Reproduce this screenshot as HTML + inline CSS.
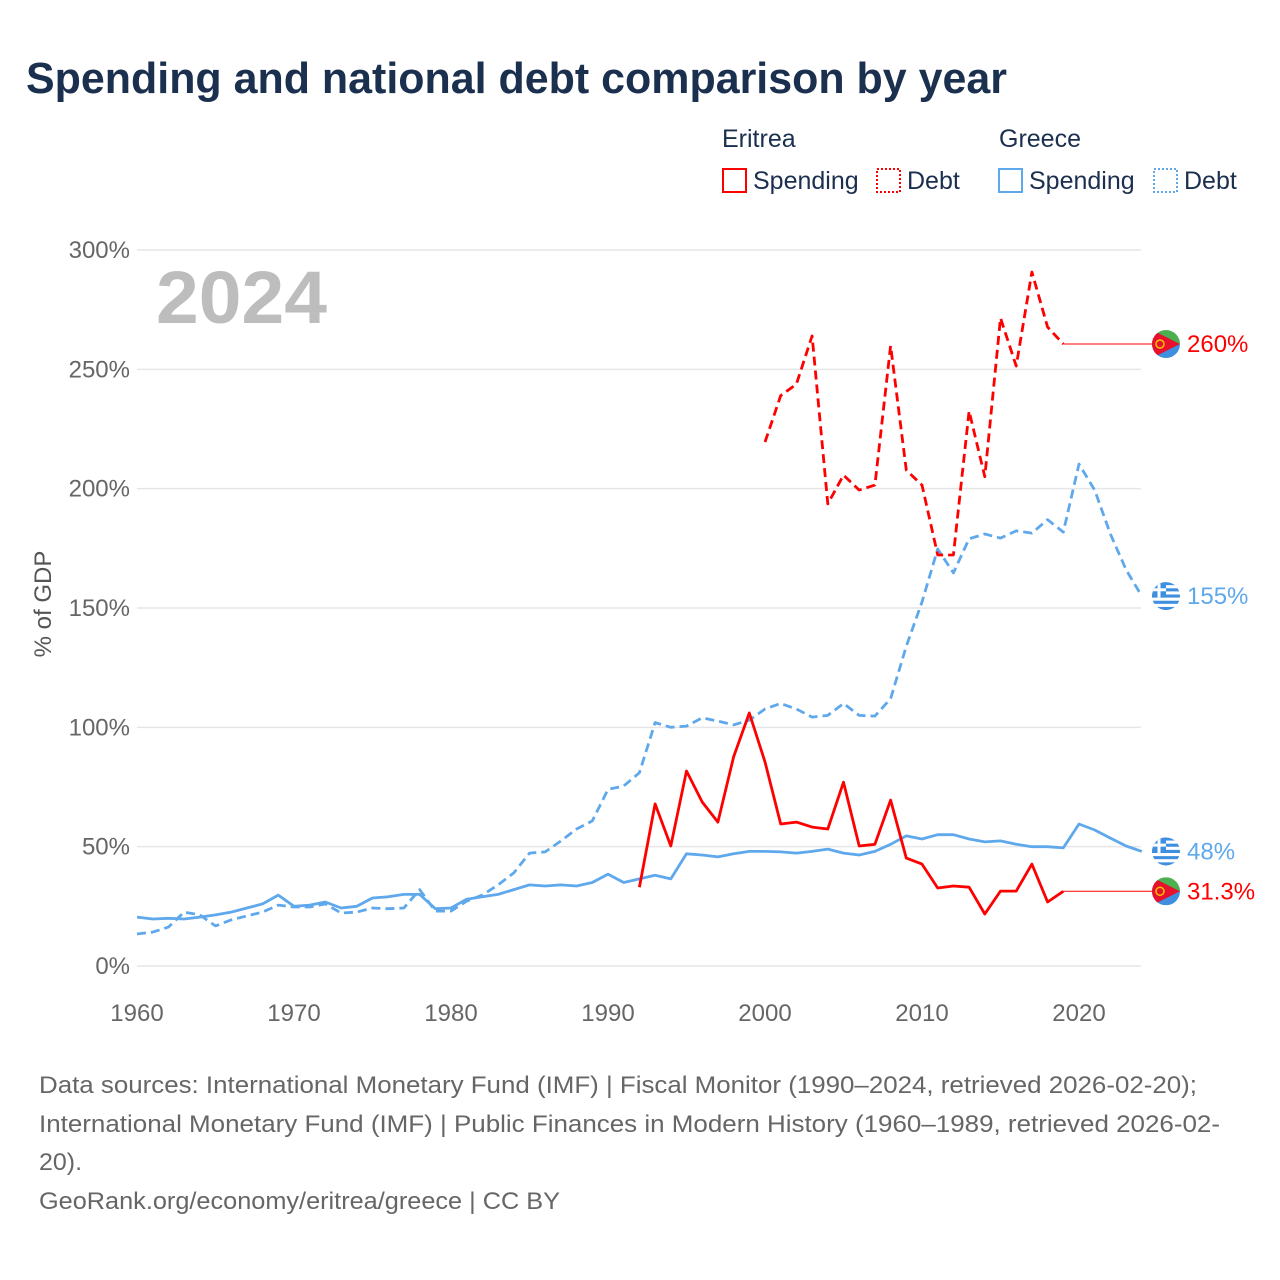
<!DOCTYPE html>
<html><head><meta charset="utf-8">
<style>
body{margin:0;background:#fff;font-family:"Liberation Sans","DejaVu Sans",sans-serif;}
svg{display:block}
</style></head>
<body>
<svg id="chart" width="1280" height="1280" viewBox="0 0 1280 1280">
<text x="26" y="93" font-size="44" font-weight="bold" fill="#1b2f4f" textLength="981" lengthAdjust="spacingAndGlyphs">Spending and national debt comparison by year</text>
<g font-size="25" fill="#1b2f4f">
<text x="722" y="147">Eritrea</text>
<text x="999" y="147">Greece</text>
<g><rect x="723" y="169" width="23" height="23" fill="none" stroke="#f00" stroke-width="2"/><text x="753" y="189">Spending</text></g>
<g><rect x="877" y="169" width="23" height="23" fill="none" stroke="#f00" stroke-width="2" stroke-dasharray="2,2"/><text x="907" y="189">Debt</text></g>
<g><rect x="999" y="169" width="23" height="23" fill="none" stroke="#5fa8ec" stroke-width="2"/><text x="1029" y="189">Spending</text></g>
<g><rect x="1154" y="169" width="23" height="23" fill="none" stroke="#5fa8ec" stroke-width="2" stroke-dasharray="2,2"/><text x="1184" y="189">Debt</text></g>
</g>
<text x="156" y="323" font-size="74" font-weight="bold" fill="#bdbdbd" textLength="171" lengthAdjust="spacingAndGlyphs">2024</text>
<text transform="translate(51,604) rotate(-90)" text-anchor="middle" font-size="24" fill="#555">% of GDP</text>
<g id="grid"></g><g id="series"></g><g id="ends"></g>
<g font-size="24" fill="#666">
<text x="39" y="1093" textLength="1158" lengthAdjust="spacingAndGlyphs">Data sources: International Monetary Fund (IMF) | Fiscal Monitor (1990–2024, retrieved 2026-02-20);</text>
<text x="39" y="1132" textLength="1181" lengthAdjust="spacingAndGlyphs">International Monetary Fund (IMF) | Public Finances in Modern History (1960–1989, retrieved 2026-02-</text>
<text x="39" y="1170" textLength="43" lengthAdjust="spacingAndGlyphs">20).</text>
<text x="39" y="1209" textLength="521" lengthAdjust="spacingAndGlyphs">GeoRank.org/economy/eritrea/greece | CC BY</text>
</g>
</svg>
<script>
const yTicks=[0,50,100,150,200,250,300];
const xTicks=[1960,1970,1980,1990,2000,2010,2020];
const grSpendStart=1960;
const grSpend=[20.5,19.7,20,19.7,20.5,21.4,22.6,24.3,26,29.7,25,25.5,26.8,24.3,25,28.5,29,30,30,24,24.3,28,29,30,32,34,33.5,34,33.5,35,38.5,35,36.5,38,36.5,47,46.5,45.7,47,48,48,47.8,47.3,48,49,47.3,46.5,48,51,54.5,53.2,55,55,53.2,52,52.4,51,50,50,49.5,59.5,57,53.6,50.3,48];
const grDebtStart=1960;
const grDebt=[13.4,14.2,16.3,22.6,21.4,16.8,19.3,21,22.6,25.5,24.7,24.7,26,22.2,22.6,24.3,24,24.3,32,23,23,27.2,29.7,34,39,47.3,47.8,52.4,57.4,60.8,74,75.4,81,102,100,100.5,104,102.6,101,103,107.7,110,107.7,104.3,105,110,105,104.7,112,134,152.5,174.7,164.7,179,181,179.3,182.3,181.4,187,181.8,210.3,199.4,181,166,155];
const erSpendStart=1992;
const erSpend=[33,67.9,50.3,81.7,68.7,60.3,87.6,106,85.5,59.5,60.3,58.2,57.4,77,50.3,51,69.5,45.2,42.7,32.7,33.5,33,21.8,31.4,31.4,42.7,26.8,31.3];
const erDebtStart=2000;
const erDebt=[219.5,239,243.8,264,193.6,205.7,199.4,201.5,259.8,207.8,201.5,172.2,172.2,232.5,205,271.5,251.4,290.8,267.7,260.6];
const lastYear=2024;
const NS='http://www.w3.org/2000/svg';
const x=y=>137+(y-1960)*(942/60);
const yv=v=>966-v*(716/300);
function mk(t,a,p){const e=document.createElementNS(NS,t);for(const k in a)e.setAttribute(k,a[k]);p.appendChild(e);return e;}
const grid=document.getElementById('grid'),ser=document.getElementById('series'),ends=document.getElementById('ends');
yTicks.forEach(v=>{
 const l=mk('line',{x1:137,x2:1141,y1:yv(v),y2:yv(v),stroke:'#e6e6e6','stroke-width':1.5},grid);
 
 
 const t=mk('text',{x:130,y:yv(v)+8,'text-anchor':'end','font-size':24,fill:'#666'},grid);t.textContent=v+'%';
 
 
});
xTicks.forEach(v=>{
 const t=mk('text',{x:x(v),y:1021,'text-anchor':'middle','font-size':24,fill:'#666'},grid);t.textContent=v;
 
 
});
function line(arr,start,color,dash,name){
 const pts=arr.map((v,i)=>x(start+i).toFixed(1)+','+yv(v).toFixed(1)).join(' ');
 const p=mk('polyline',{points:pts,fill:'none',stroke:color,'stroke-width':2.8,'stroke-linejoin':'round'},ser);
 if(dash)p.setAttribute('stroke-dasharray','9,5');
 
 
 const endY=start+arr.length-1;
 if(endY<lastYear){
  const e=mk('line',{x1:x(endY),x2:x(lastYear)+14,y1:yv(arr[arr.length-1]),y2:yv(arr[arr.length-1]),stroke:color,'stroke-width':1},ser);
  
  
 }
}
line(grDebt,grDebtStart,'#5fa8ec',true,'greece-debt-line');
line(grSpend,grSpendStart,'#5fa8ec',false,'greece-spending-line');
line(erDebt,erDebtStart,'#ff0000',true,'eritrea-debt-line');
line(erSpend,erSpendStart,'#ff0000',false,'eritrea-spending-line');
function flag(type,v,label,color){
 const cx=1166,cy=yv(v),g=mk('g',{},ends);
 
 
 const id='c'+type;
 const cp=mk('clipPath',{id:id},g);mk('circle',{cx:cx,cy:cy,r:14},cp);
 const f=mk('g',{'clip-path':'url(#'+id+')'},g);
 if(type.startsWith('eritrea')){
  mk('rect',{x:cx-14,y:cy-14,width:28,height:14,fill:'#4caf50'},f);
  mk('rect',{x:cx-14,y:cy,width:28,height:14,fill:'#3f8fe0'},f);
  mk('polygon',{points:`${cx-14},${cy-14} ${cx+14},${cy} ${cx-14},${cy+14}`,fill:'#e8112d'},f);
  mk('circle',{cx:cx-6,cy:cy,r:4,fill:'none',stroke:'#f6c400','stroke-width':1.5},f);
 }else{
  for(let i=0;i<9;i++)mk('rect',{x:cx-14,y:cy-14+i*28/9,width:28,height:28/9+0.2,fill:i%2?'#fff':'#3f8fe0'},f);
  mk('rect',{x:cx-14,y:cy-14,width:14,height:15.5,fill:'#3f8fe0'},f);
  mk('rect',{x:cx-14,y:cy-7.8,width:14,height:3,fill:'#fff'},f);
  mk('rect',{x:cx-8.5,y:cy-14,width:3,height:15.5,fill:'#fff'},f);
 }
 const t=mk('text',{x:1187,y:cy+8,'font-size':24,fill:color},g);t.textContent=label;
}
flag('eritrea-debt',erDebt[erDebt.length-1],'260%','#ff0000');
flag('greece-debt',grDebt[grDebt.length-1],'155%','#5fa8ec');
flag('greece-spending',grSpend[grSpend.length-1],'48%','#5fa8ec');
flag('eritrea-spending',erSpend[erSpend.length-1],'31.3%','#ff0000');
</script>
</body></html>
